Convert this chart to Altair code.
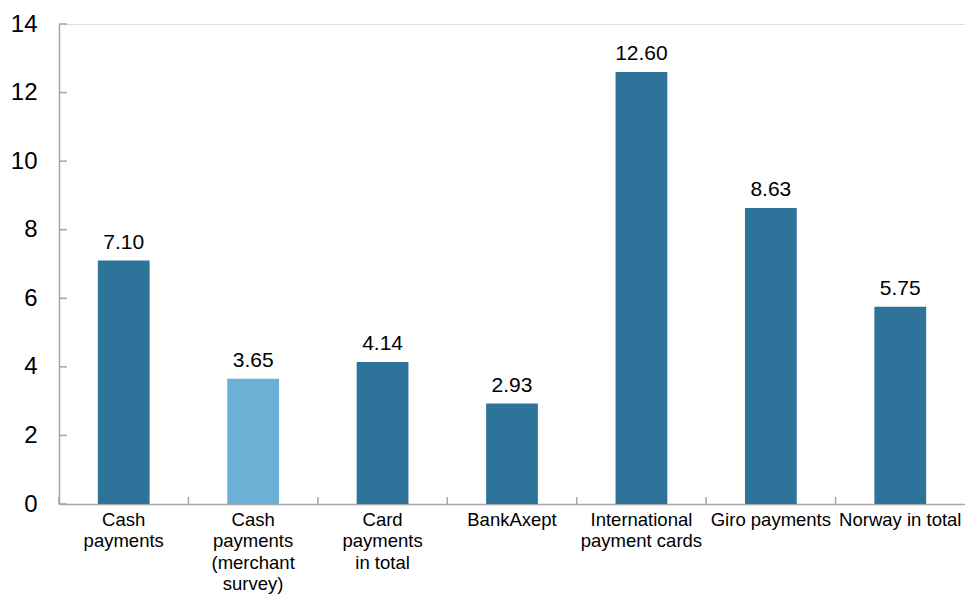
import altair as alt
import pandas as pd

categories = ["Cash|payments", "Cash|payments|(merchant|survey)", "Card|payments|in total",
              "BankAxept", "International|payment cards", "Giro payments", "Norway in total"]
values = [7.10, 3.65, 4.14, 2.93, 12.60, 8.63, 5.75]
groups = ["main", "survey", "main", "main", "main", "main", "main"]
y_ticks = [0, 2, 4, 6, 8, 10, 12, 14]

df = pd.DataFrame({"cat": categories, "value": values, "group": groups})
tdf = pd.DataFrame({"t": y_ticks})

FONT = "Liberation Sans"
AX = "#A6A6A6"
H = 480

x_enc = alt.X("cat:N", sort=categories,
              scale=alt.Scale(paddingInner=0, paddingOuter=0),
              axis=alt.Axis(title=None, labelAngle=0, ticks=False, labelPadding=6,
                            labelFont=FONT, labelFontSize=18.5, labelColor="black",
                            labelLineHeight=21.5, labelLimit=200,
                            labelExpr="split(datum.value, '|')",
                            domainColor=AX, domainWidth=1.5))
y_scale = alt.Scale(domain=[0, 14], nice=False)
y_enc = alt.Y("value:Q", scale=y_scale,
              axis=alt.Axis(title=None, values=y_ticks, ticks=False, grid=False,
                            labelPadding=22, labelFont=FONT, labelFontSize=24,
                            labelColor="black", domainColor=AX, domainWidth=1.5))

bars = alt.Chart(df).mark_bar(width=alt.RelativeBandSize(0.4)).encode(
    x=x_enc,
    y=y_enc,
    color=alt.Color("group:N", scale=alt.Scale(domain=["main", "survey"],
                                               range=["#2E7399", "#6BB0D5"]), legend=None),
)

labels = alt.Chart(df).mark_text(baseline="bottom", dy=-8, font=FONT, fontSize=21,
                                 color="black").encode(
    x=alt.X("cat:N", sort=categories),
    y=alt.Y("value:Q", scale=y_scale),
    text=alt.Text("value:Q", format=".2f"),
)

xticks = alt.Chart(df).mark_rule(color=AX, strokeWidth=1.5).encode(
    x=alt.X("cat:N", sort=categories, bandPosition=0),
    y=alt.value(H - 7),
    y2=alt.value(H),
)

yticks = alt.Chart(tdf).mark_rule(color=AX, strokeWidth=1.5).encode(
    y=alt.Y("t:Q", scale=y_scale),
    x=alt.value(0),
    x2=alt.value(8),
)

chart = alt.layer(bars, labels, xticks, yticks).properties(
    width=906, height=H,
    autosize=alt.AutoSizeParams(type="none"),
    padding={"left": 51, "top": 16, "right": 0, "bottom": 92},
).configure_view(stroke=None).configure(background="white")

chart.save("out.html", embed_options={"renderer": "svg", "actions": False})
